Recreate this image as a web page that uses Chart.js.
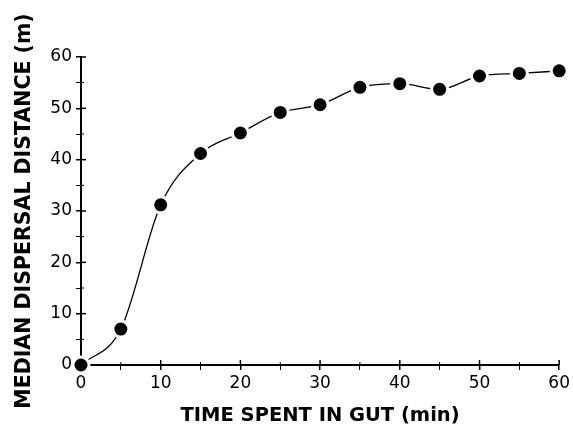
<!DOCTYPE html>
<html>
<head>
<meta charset="utf-8">
<script src="https://cdn.jsdelivr.net/npm/chart.js@4/dist/chart.umd.min.js"></script>
<style>
  html, body { margin: 0; padding: 0; background: #fff; }
  #wrap { width: 573px; height: 428px; }
</style>
</head>
<body>
<div id="wrap"><canvas id="chart"></canvas></div>
<script>
// time in gut (min) and median dispersal distance (m)
const timeMin = [0, 5, 10, 15, 20, 25, 30, 35, 40, 45, 50, 55, 60];
const distanceM = [0, 7, 31.2, 41.2, 45.2, 49.2, 50.7, 54.1, 54.8, 53.7, 56.3, 56.8, 57.3];
const axisMin = 0;
const axisMax = 60;
const tickStep = 5;

const fontFamily = '"DejaVu Sans", Verdana, sans-serif';

// draw the part of each tick that sits inside the plot area
const innerTicks = {
    id: 'innerTicks',
    afterDraw(chart) {
        const ctx = chart.ctx;
        const x = chart.scales.x;
        const y = chart.scales.y;
        ctx.save();
        ctx.strokeStyle = '#000';
        x.ticks.forEach(t => {
            const px = x.getPixelForValue(t.value);
            const major = t.value % 10 === 0;
            ctx.lineWidth = major ? 1.5 : 1;
            ctx.beginPath();
            ctx.moveTo(px, y.bottom);
            ctx.lineTo(px, y.bottom - (major ? 5 : 3));
            ctx.stroke();
        });
        y.ticks.forEach(t => {
            const py = y.getPixelForValue(t.value);
            const major = t.value % 10 === 0;
            ctx.lineWidth = major ? 1.5 : 1;
            ctx.beginPath();
            ctx.moveTo(x.left, py);
            ctx.lineTo(x.left + (major ? 5 : 3), py);
            ctx.stroke();
        });
        ctx.restore();
    }
};

const ctx = document.getElementById('chart');
new Chart(ctx, {
    type: 'line',
    data: {
        datasets: [{
            data: timeMin.map((t, i) => ({ x: t, y: distanceM[i] })),
            borderColor: '#000',
            borderWidth: 1.3,
            cubicInterpolationMode: 'monotone',
            pointRadius: 8,
            pointBackgroundColor: '#000',
            pointBorderColor: '#fff',
            pointBorderWidth: 3,
            clip: false
        }]
    },
    options: {
        responsive: true,
        maintainAspectRatio: false,
        animation: false,
        plugins: {
            legend: { display: false },
            tooltip: { enabled: false }
        },
        layout: { padding: { top: 57, right: 11, left: 0, bottom: 0 } },
        scales: {
            x: {
                type: 'linear',
                min: axisMin,
                max: axisMax,
                afterFit(scale) { scale.height = 63; },
                border: { color: '#000', width: 2 },
                grid: {
                    drawOnChartArea: false,
                    tickLength: 5,
                    color: '#000',
                    lineWidth: c => (c.tick && c.tick.value % 10 === 0) ? 1.5 : 1
                },
                ticks: {
                    stepSize: tickStep,
                    autoSkip: false,
                    maxRotation: 0,
                    padding: 3,
                    color: '#000',
                    font: { family: fontFamily, size: 17 },
                    callback: v => v % 10 === 0 ? v : ''
                },
                title: {
                    display: true,
                    text: 'TIME SPENT IN GUT (min)',
                    color: '#000',
                    font: { family: fontFamily, size: 19.5, weight: 'bold' },
                    padding: { top: 15, bottom: 0 }
                }
            },
            y: {
                type: 'linear',
                min: axisMin,
                max: axisMax,
                afterFit(scale) { scale.width = 81; },
                border: { color: '#000', width: 2 },
                grid: {
                    drawOnChartArea: false,
                    tickLength: 5,
                    color: '#000',
                    lineWidth: c => (c.tick && c.tick.value % 10 === 0) ? 1.5 : 1
                },
                ticks: {
                    stepSize: tickStep,
                    autoSkip: false,
                    padding: 4,
                    color: '#000',
                    font: { family: fontFamily, size: 17 },
                    callback: v => v % 10 === 0 ? v : ''
                },
                title: {
                    display: true,
                    text: 'MEDIAN DISPERSAL DISTANCE (m)',
                    color: '#000',
                    font: { family: fontFamily, size: 20.5, weight: 'bold' },
                    padding: { top: 12, bottom: 0 }
                }
            }
        }
    },
    plugins: [innerTicks]
});
</script>
</body>
</html>
